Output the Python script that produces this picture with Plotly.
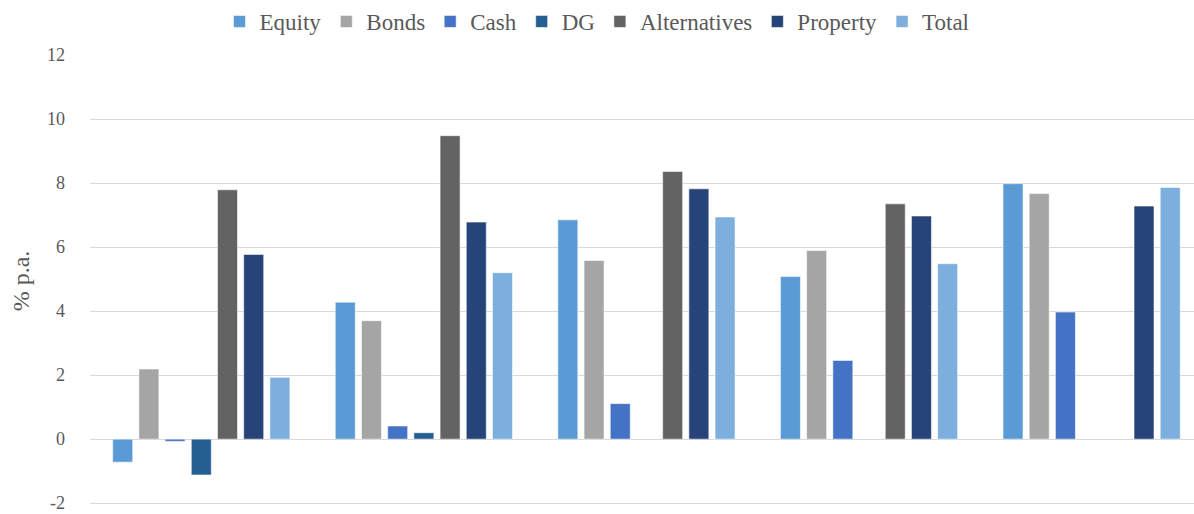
import plotly.graph_objects as go

categories = ["Group 1", "Group 2", "Group 3", "Group 4", "Group 5"]

equity = [-0.72, 4.28, 6.85, 5.08, 7.98]
bonds = [2.19, 3.70, 5.58, 5.89, 7.67]
cash = [-0.07, 0.41, 1.11, 2.46, 3.97]
dg = [-1.12, 0.20, None, None, None]
alternatives = [7.79, 9.48, 8.36, 7.35, None]
property_ = [5.77, 6.78, 7.82, 6.97, 7.28]
total = [1.93, 5.20, 6.94, 5.48, 7.86]

series_names = ["Equity", "Bonds", "Cash", "DG", "Alternatives", "Property", "Total"]
series_values = [equity, bonds, cash, dg, alternatives, property_, total]
series_colors = ["#5B9BD5", "#A5A5A5", "#4472C4", "#255E91", "#636363", "#264478", "#7CAFDD"]

y_ticks = [-2, 0, 2, 4, 6, 8, 10, 12]

font_family = "Liberation Serif, DejaVu Serif, serif"
text_color = "#595959"

fig = go.Figure()
for name, vals, col in zip(series_names, series_values, series_colors):
    fig.add_trace(go.Bar(
        name=name, x=categories, y=vals,
        marker=dict(color=col, line=dict(color="rgba(255,255,255,0.55)", width=1)),
    ))

fig.update_layout(
    width=1194, height=514,
    margin=dict(l=90, r=0, t=55, b=7),
    paper_bgcolor="white", plot_bgcolor="white",
    barmode="group", bargap=0.176, bargroupgap=0.237,
    font=dict(family=font_family, color=text_color),
    showlegend=True,
    legend=dict(
        orientation="h", xref="container", yref="container",
        x=0.5, xanchor="center", y=1.0, yanchor="top",
        font=dict(size=23, color=text_color, family=font_family),
        itemclick=False, traceorder="normal",
    ),
    xaxis=dict(
        range=[-0.5, 4.46], showticklabels=False, showgrid=False,
        zeroline=False, showline=False, ticks="",
    ),
    yaxis=dict(
        range=[-2.12, 12], tickvals=y_ticks, ticktext=[str(v) for v in y_ticks],
        showgrid=True, gridcolor="#D9D9D9", gridwidth=1.3,
        zeroline=True, zerolinecolor="#D9D9D9", zerolinewidth=1.3,
        showline=False, ticks="", ticklabelstandoff=24,
        ticklabeloverflow="allow",
        tickfont=dict(size=18, color=text_color, family=font_family),
        title=dict(text="% p.a.", font=dict(size=24, color=text_color, family=font_family), standoff=10),
        automargin=False,
    ),
)

fig.write_html("out.html")
